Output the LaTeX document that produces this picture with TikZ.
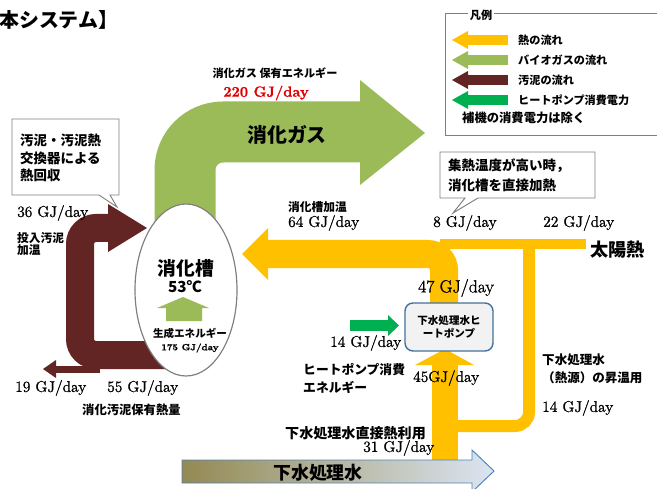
\documentclass[tikz,border=0pt]{standalone}
\usepackage{fontspec}
\newfontfamily\jp{Noto Sans CJK JP}
\newfontfamily\numf{Latin Modern Roman}[FakeBold=1.2]
\usetikzlibrary{positioning}
\usetikzlibrary{shapes.geometric}

\definecolor{heatc}{HTML}{FFC000}
\definecolor{gasc}{HTML}{9BBB59}
\definecolor{sludgec}{HTML}{632523}
\definecolor{powerc}{HTML}{00B050}
\definecolor{hpfill}{HTML}{F2F2F2}
\definecolor{hpdraw}{HTML}{41719C}
\definecolor{waterL}{HTML}{938953}
\definecolor{waterM}{HTML}{D0DCEC}
\definecolor{waterR}{HTML}{DBE5F1}
\definecolor{waterline}{HTML}{4F81BD}
\definecolor{boxline}{HTML}{7F7F7F}
\definecolor{gjred}{HTML}{E00000}

\begin{document}
\begin{tikzpicture}[x=0.03cm, y=-0.03cm,
jl/.style 2 args={font=\jp\bfseries\fontsize{#1}{#2}\selectfont, inner sep=0pt, anchor=west, align=left},
gj/.style={font=\numf\fontsize{13.2}{15}\selectfont, inner sep=0pt, anchor=west},
callout/.style={draw=boxline, fill=white, line width=0.8pt}]

\useasboundingbox (0,0) rectangle (657,489);

\node[jl={17}{20}] (title) at (-1,20) {本システム】};

% legend
\draw[boxline, line width=0.8pt] (445,13) rectangle (660,135);
\node[jl={9.5}{11}, anchor=center, fill=white, inner sep=2pt] (legtitle) at (481,15) {凡例};
\foreach \c/\t [count=\i] in {heatc/熱の流れ, gasc/バイオガスの流れ, sludgec/汚泥の流れ, powerc/ヒートポンプ消費電力}{
  \draw[\c, line width=0.3cm] (508,{20+20*\i}) -- (467,{20+20*\i});
  \fill[\c] (468,{11+20*\i}) -- (452,{20+20*\i}) -- (468,{29+20*\i}) -- cycle;
  \node[jl={9.5}{11}] (leg\i) at (518,{20+20*\i}) {\t};
}
\node[jl={10.5}{12}] (legnote) at (462,118) {補機の消費電力は除く};

% biogas
\draw[gasc, line width=1.83cm, rounded corners=1.14cm] (185,232) -- (185,132) -- (361,132);
\fill[gasc] (360,80) -- (425,133) -- (360,185) -- cycle;

% sludge
\draw[sludgec, line width=0.84cm, rounded corners=0.48cm] (168,355) -- (80,355) -- (80,228) -- (110,228);
\fill[sludgec] (108,204) -- (147,228) -- (108,252) -- cycle;
\draw[sludgec, line width=0.21cm] (100,369) -- (55,369);
\fill[sludgec] (56,360) -- (43,369) -- (56,378) -- cycle;

% heat
\draw[heatc, line width=0.3cm] (440,244) -- (586,244);
\draw[heatc, line width=0.36cm, rounded corners=0.42cm] (529,244) -- (529,426) -- (446,426);
\draw[heatc, line width=0.84cm, rounded corners=0.48cm] (266,254) -- (444,254) -- (444,306);
\fill[heatc] (268,228) -- (242,254) -- (268,280) -- cycle;
\draw[heatc, line width=0.78cm] (445,462) -- (445,364);
\fill[heatc] (415,365) -- (445,349) -- (474,365) -- cycle;

% heat pump power
\draw[powerc, line width=0.33cm] (350,325.5) -- (389,325.5);
\fill[powerc] (388,315) -- (399,325.5) -- (388,336) -- cycle;

% sewage water
\shade[draw=waterline, line width=0.8pt, left color=waterL, middle color=waterM, right color=waterR]
  (182,460) -- (472,460) -- (472,450) -- (494,471) -- (472,492) -- (472,483) -- (182,483) -- cycle;
\node[jl={15.3}{17}, anchor=center] (sewage) at (318,473) {下水処理水};

% digester
\node[draw=boxline, fill=white, ellipse, line width=1pt, minimum width=3.06cm, minimum height=5.16cm] (tank) at (186,290) {};
\node[jl={16}{18}, anchor=center] (tankname) at (186,268) {消化槽};
\node[jl={13}{15}, anchor=center] (tanktemp) at (185,287) {53℃};
\fill[gasc] (166,321) -- (166,308) -- (157,308) -- (183,297) -- (209,308) -- (202,308) -- (202,321) -- cycle;
\node[jl={9}{10}, anchor=center] (genlbl) at (190,333) {生成エネルギー};
\node[font=\numf\bfseries\fontsize{7.7}{9}\selectfont, inner sep=0pt] (gengj) at (190,348) {175 GJ/day};

% heat pump
\node[draw=hpdraw, fill=hpfill, rounded corners=0.24cm, line width=1.2pt, minimum width=2.64cm, minimum height=1.44cm,
  font=\jp\bfseries\fontsize{9}{11}\selectfont, align=center, inner sep=0pt] (hp) at (449,327) {下水処理水ヒ\\ートポンプ};

% callouts
\draw[callout] (12,119) -- (119,119) -- (119,195) -- (110,195) -- (117,207) -- (99,195) -- (12,195) -- cycle;
\node[jl={11.5}{14.9}] (note1) at (20,158) {汚泥・汚泥熱\\交換器による\\熱回収};
\draw[callout] (440,152) -- (595,152) -- (595,198) -- (478,198) -- (453,213) -- (465,198) -- (440,198) -- cycle;
\node[jl={11.5}{17}] (note2) at (448,175) {集熱温度が高い時，\\消化槽を直接加熱};

% labels
\node[jl={9.5}{11}, anchor=center] (gaslbl) at (275,73) {消化ガス\ 保有エネルギー};
\node[font=\numf\bfseries\fontsize{12.5}{14}\selectfont, text=gjred, inner sep=0pt] (gasgj) at (266,93) {220 GJ/day};
\node[jl={17}{19}, anchor=center] (gasname) at (287,135) {消化ガス};

\node[gj] (inheat) at (17,213) {36 GJ/day};
\node[jl={10}{11}] (inlbl) at (17,244) {投入汚泥\\加温};
\node[gj] (outsl) at (15,388) {19 GJ/day};
\node[gj] (digsl) at (107,388) {55 GJ/day};
\node[jl={10.5}{12}] (digsllbl) at (82,410) {消化汚泥保有熱量};

\node[jl={10}{11}] (tanklbl) at (288,207) {消化槽加温};
\node[gj] (tankgj) at (288,223) {64 GJ/day};
\node[gj] (directgj) at (433,223) {8 GJ/day};
\node[gj] (solargj) at (543,223) {22 GJ/day};
\node[jl={15.5}{17}] (solar) at (590,250) {太陽熱};
\node[gj, font=\numf\fontsize{15}{17}\selectfont] (hpout) at (418,288) {47 GJ/day};
\node[gj] (hppow) at (330,343) {14 GJ/day};
\node[jl={10.9}{15.4}] (hppowlbl) at (303,378) {ヒートポンプ消費\\エネルギー};
\node[gj] (hpin) at (413,378) {45GJ/day};
\node[jl={10.7}{15.4}] (risellbl) at (542,369) {下水処理水\\（熱源）の昇温用};
\node[gj] (risegj) at (542,408) {14 GJ/day};
\node[jl={12}{14}] (directlbl) at (285,433) {下水処理水直接熱利用};
\node[gj] (sewagegj) at (363,448) {31 GJ/day};

\end{tikzpicture}
\end{document}
